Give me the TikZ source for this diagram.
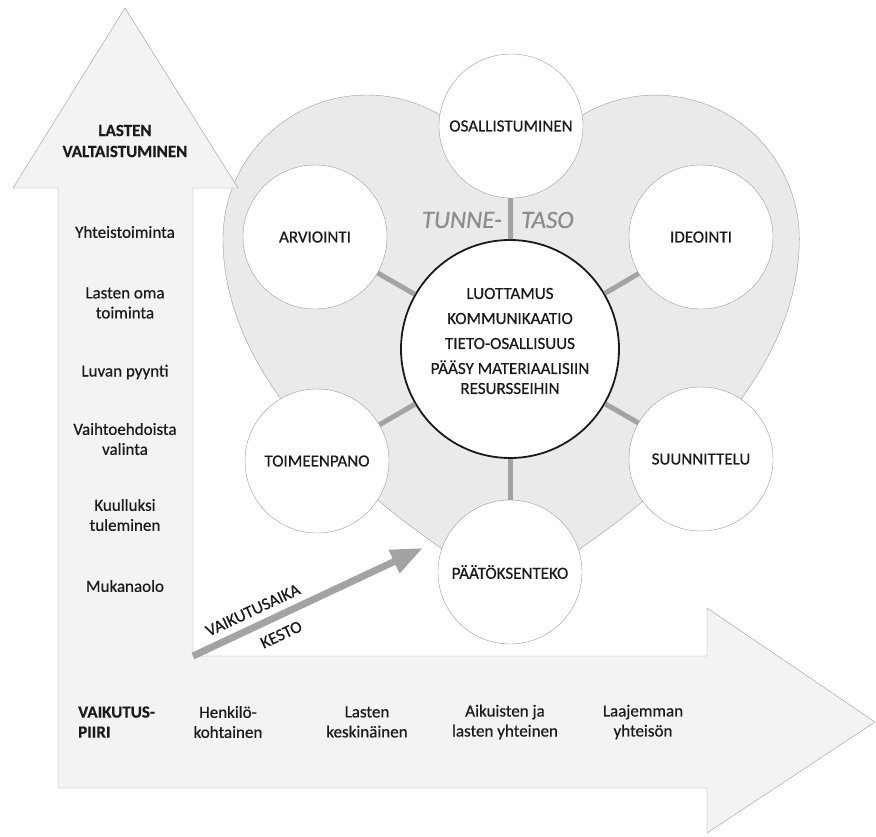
\documentclass[tikz,border=0pt]{standalone}
\usepackage{fontspec}
\setmainfont{Carlito}[FakeBold=0.5]
\usetikzlibrary{arrows.meta}
\definecolor{ink}{HTML}{1A1A1A}
\definecolor{rim}{HTML}{9C9C9C}
\definecolor{arrowfill}{HTML}{F3F3F3}
\definecolor{heartfill}{HTML}{EAEAEA}
\definecolor{spokegray}{HTML}{A3A3A3}
\definecolor{tunnegray}{HTML}{8C8C8C}
\begin{document}
\begin{tikzpicture}[x=1pt, y=-1pt, line join=round, >={Triangle[length=32pt,width=24pt]},
	font=\fontsize{17}{20}\selectfont,
	tag/.style={text=ink, align=center, inner sep=2pt},
	phase/.style={circle, draw=rim, fill=white, text=ink, minimum size=144pt, inner sep=0pt},
	spoke/.style={draw=spokegray, line width=5pt}]
	\path
	(0,0) coordinate (NW)
	(876,836) coordinate (SE)
	(193,656) coordinate (K)
	(423,548) coordinate (T)
	;
	\useasboundingbox (NW) rectangle (SE);
	% heart
	\draw[rim, fill=heartfill] (511,593) .. controls (400,527) and (223,400) .. (223,239)
	arc[start angle=180, end angle=302, radius=144] -- (511,160) -- (579,117)
	arc[start angle=238, end angle=360, radius=144]
	.. controls (799,400) and (622,527) .. (511,593) -- cycle;
	% the two big arrows
	\draw[rim, fill=arrowfill] (58,788) -- (58,188) -- (13,188) -- (125,8) -- (238,188) -- (193,188)
	-- (K) -- (707,656) -- (707,608) -- (875,722) -- (707,833) -- (707,788) -- cycle;
	% phases
	\node[phase] (osal) at (511,126) {OSALLISTUMINEN};
	\node[phase] (ideo) at (701,237) {IDEOINTI};
	\node[phase] (suun) at (701,459) {SUUNNITTELU};
	\node[phase] (paat) at (510,572) {PÄÄTÖKSENTEKO};
	\node[phase] (toim) at (317,461) {TOIMEENPANO};
	\node[phase] (arvi) at (315,237) {ARVIOINTI};
	\node[circle, draw=ink, line width=1.8pt, fill=white, minimum size=218pt] (ctr) at (510,349) {};
	\node[tag] (core) at (510,341) {LUOTTAMUS\\[5pt]KOMMUNIKAATIO\\[5pt]TIETO-OSALLISUUS\\[5pt]PÄÄSY MATERIAALISIIN\\RESURSSEIHIN};
	\foreach \p in {osal,ideo,suun,paat,toim,arvi}
	\draw[spoke] (ctr) -- (\p);
	\node[tag, text=tunnegray, anchor=east, font=\fontsize{25}{28}\selectfont\itshape] (tunne) at (504,220) {TUNNE-};
	\node[tag, text=tunnegray, anchor=west, font=\fontsize{25}{28}\selectfont\itshape] (taso) at (519,220) {TASO};
	% time arrow
	\draw[draw=spokegray, line width=7pt, ->] (K) -- (T)
	node[tag, pos=.29, sloped, above=5pt] (aika) {VAIKUTUSAIKA}
	node[tag, pos=.35, sloped, below=7pt] (kesto) {KESTO};
	% vertical axis
	\node[tag, font=\fontsize{17}{21}\selectfont\bfseries] (title) at (125,141) {LASTEN\\VALTAISTUMINEN};
	\foreach \y/\t [count=\i] in {232/Yhteistoiminta, 303/{Lasten oma\\toiminta}, 372/Luvan pyynti,
		439/{Vaihtoehdoista\\valinta}, 515/{Kuulluksi\\tuleminen}, 586/Mukanaolo}
	\node[tag] (lev\i) at (125,\y) {\t};
	% horizontal axis
	\node[tag, anchor=west, align=left, font=\fontsize{17}{20}\selectfont\bfseries] (piiri) at (76,722) {VAIKUTUS-\\PIIRI};
	\foreach \x/\t [count=\i] in {228/{Henkilö-\\kohtainen}, 367/{Lasten\\keskinäinen},
		505/{Aikuisten ja\\lasten yhteinen}, 643/{Laajemman\\yhteisön}}
	\node[tag] (ring\i) at (\x,722) {\t};
\end{tikzpicture}
\end{document}
